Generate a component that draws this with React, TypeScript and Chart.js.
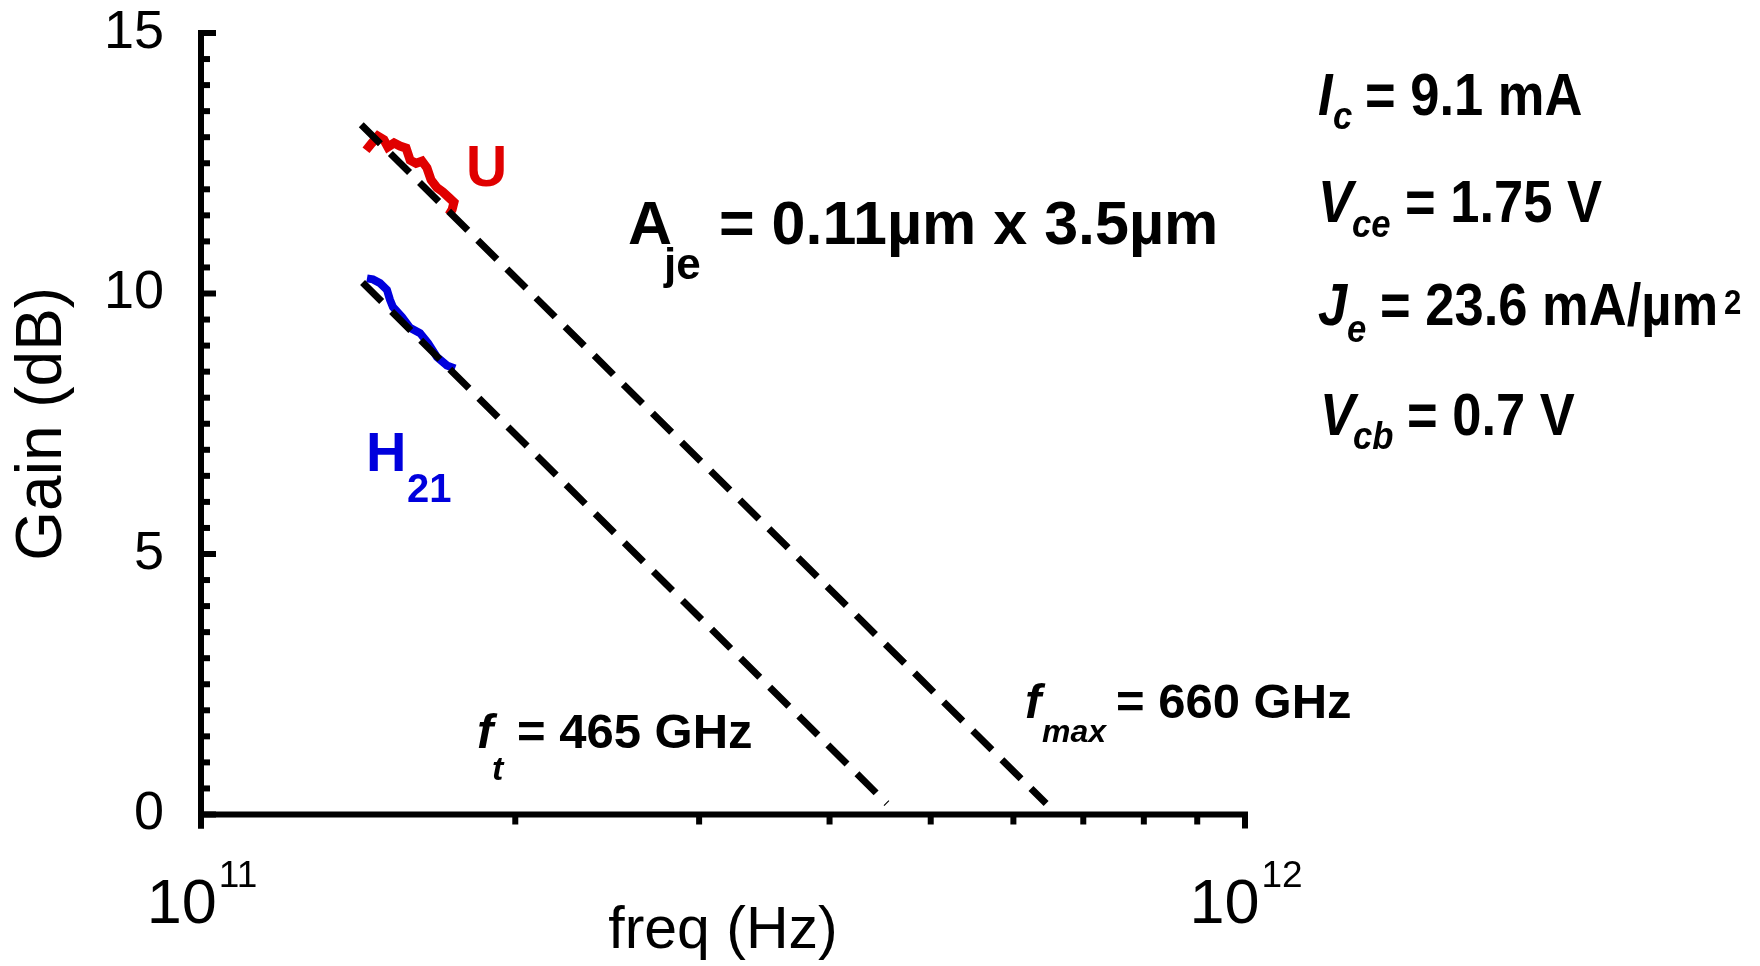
import { useEffect, useRef } from "react";
import { Chart, registerables } from "chart.js";

Chart.register(...registerables);

const W = 1760;
const H = 966;
const FONT = "'Liberation Sans', Arial, Helvetica, sans-serif";
const RED = "#e00000";
const BLUE = "#0000dd";

// Measured unilateral gain U (frequency in Hz, gain in dB)
const uFreq = [
  1.439e11, 1.458e11, 1.477e11, 1.497e11, 1.510e11, 1.531e11, 1.551e11, 1.572e11,
  1.586e11, 1.607e11, 1.628e11, 1.646e11, 1.661e11, 1.683e11, 1.705e11, 1.728e11,
  1.747e11, 1.740e11, 1.728e11,
];
const uGain = [
  12.75, 12.89, 13.02, 12.95, 12.81, 12.89, 12.83, 12.79,
  12.56, 12.5, 12.54, 12.41, 12.18, 12.03, 11.95, 11.84,
  11.75, 11.61, 11.51,
];

// Measured current gain H21
const h21Freq = [
  1.442e11, 1.461e11, 1.484e11, 1.507e11, 1.517e11, 1.527e11, 1.558e11,
  1.586e11, 1.621e11, 1.65e11, 1.683e11, 1.72e11, 1.751e11,
];
const h21Gain = [
  10.29, 10.27, 10.2, 10.07, 9.88, 9.74, 9.55,
  9.34, 9.24, 9.05, 8.78, 8.62, 8.56,
];

// -20 dB/dec extrapolation lines
const fmaxFitFreq = [1.424e11, 6.449e11];
const fmaxFitGain = [13.24, 0.21];
const ftFitFreq = [1.428e11, 4.539e11];
const ftFitGain = [10.21, 0.21];

// Axis tick values
const yMajorTicks = [0, 5, 10, 15];
const yMinorTicks = [
  0.5, 1, 1.5, 2, 2.5, 3, 3.5, 4, 4.5, 5.5, 6, 6.5, 7, 7.5, 8, 8.5, 9, 9.5,
  10.5, 11, 11.5, 12, 12.5, 13, 13.5, 14, 14.5,
];
const xDecades = [1e11, 1e12];
const xDecadeExponents = ["11", "12"];
const xMinorTicks = [2e11, 3e11, 4e11, 5e11, 6e11, 7e11, 8e11, 9e11];

type Run = { text: string; x: number; y: number; size: number; italic?: boolean; sx?: number };
type Annotation = { color: string; runs: Run[] };

const RS = 59; // right-hand text size
const RSUB = 39;
const RX = 0.89; // narrow factor of the original font

const annotations: Annotation[] = [
  { color: RED, runs: [{ text: "U", x: 466, y: 186, size: 57 }] },
  {
    color: BLUE,
    runs: [
      { text: "H", x: 366, y: 471, size: 56 },
      { text: "21", x: 407, y: 502, size: 40 },
    ],
  },
  {
    color: "#000",
    runs: [
      { text: "A", x: 628, y: 244, size: 61 },
      { text: "je", x: 664, y: 279, size: 44 },
      { text: "= 0.11µm x 3.5µm", x: 719, y: 244, size: 61 },
    ],
  },
  {
    color: "#000",
    runs: [
      { text: "I", x: 1318, y: 115, size: RS, italic: true, sx: RX },
      { text: "c", x: 1333, y: 129, size: RSUB, italic: true, sx: RX },
      { text: "= 9.1 mA", x: 1365, y: 115, size: RS, sx: RX },
    ],
  },
  {
    color: "#000",
    runs: [
      { text: "V", x: 1318, y: 222, size: RS, italic: true, sx: RX },
      { text: "ce", x: 1352, y: 237, size: RSUB, italic: true, sx: RX },
      { text: "= 1.75 V", x: 1405, y: 222, size: RS, sx: RX },
    ],
  },
  {
    color: "#000",
    runs: [
      { text: "J", x: 1318, y: 325, size: RS, italic: true, sx: RX },
      { text: "e", x: 1347, y: 342, size: RSUB, italic: true, sx: RX },
      { text: "= 23.6 mA/µm", x: 1380, y: 325, size: RS, sx: RX },
      { text: "2", x: 1724, y: 314, size: 35, sx: RX },
    ],
  },
  {
    color: "#000",
    runs: [
      { text: "V", x: 1320, y: 435, size: RS, italic: true, sx: RX },
      { text: "cb", x: 1353, y: 449, size: RSUB, italic: true, sx: RX },
      { text: "= 0.7 V", x: 1407, y: 435, size: RS, sx: RX },
    ],
  },
  {
    color: "#000",
    runs: [
      { text: "f", x: 477, y: 748, size: 49, italic: true },
      { text: "t", x: 492, y: 780, size: 34, italic: true },
      { text: "= 465 GHz", x: 517, y: 748, size: 49 },
    ],
  },
  {
    color: "#000",
    runs: [
      { text: "f", x: 1025, y: 718, size: 49, italic: true },
      { text: "max", x: 1042, y: 742, size: 32, italic: true },
      { text: "= 660 GHz", x: 1116, y: 718, size: 49 },
    ],
  },
];

const decorPlugin = {
  id: "decor",
  afterDraw(chart: any) {
    const ctx: CanvasRenderingContext2D = chart.ctx;
    const xs = chart.scales.x;
    const ys = chart.scales.y;
    const x0 = xs.getPixelForValue(xDecades[0]);
    const x1 = xs.getPixelForValue(xDecades[1]);
    const y0 = ys.getPixelForValue(0);
    const yTop = ys.getPixelForValue(15);
    ctx.save();
    ctx.strokeStyle = "#000";
    ctx.lineCap = "butt";
    ctx.lineWidth = 6;
    // axis lines
    ctx.beginPath();
    ctx.moveTo(x0, yTop - 3);
    ctx.lineTo(x0, y0 + 14);
    ctx.stroke();
    ctx.beginPath();
    ctx.moveTo(x0 - 3, y0);
    ctx.lineTo(x1 + 3, y0);
    ctx.stroke();
    // y ticks (inward)
    for (const v of yMajorTicks) {
      const y = ys.getPixelForValue(v);
      ctx.beginPath();
      ctx.moveTo(x0, y);
      ctx.lineTo(x0 + 15, y);
      ctx.stroke();
    }
    for (const v of yMinorTicks) {
      const y = ys.getPixelForValue(v);
      ctx.beginPath();
      ctx.moveTo(x0, y);
      ctx.lineTo(x0 + 9, y);
      ctx.stroke();
    }
    // x ticks (outward)
    for (const v of xDecades) {
      const x = xs.getPixelForValue(v);
      ctx.beginPath();
      ctx.moveTo(x, y0);
      ctx.lineTo(x, y0 + 14);
      ctx.stroke();
    }
    for (const v of xMinorTicks) {
      const x = xs.getPixelForValue(v);
      ctx.beginPath();
      ctx.moveTo(x, y0);
      ctx.lineTo(x, y0 + 10);
      ctx.stroke();
    }
    // x tick labels 10^n
    ctx.fillStyle = "#000";
    ctx.textBaseline = "alphabetic";
    ctx.textAlign = "left";
    xDecades.forEach((v, i) => {
      const x = xs.getPixelForValue(v);
      ctx.font = `63px ${FONT}`;
      const wb = ctx.measureText("10").width;
      ctx.font = `37px ${FONT}`;
      const we = ctx.measureText(xDecadeExponents[i]).width;
      const start = x - (wb + we) / 2;
      ctx.font = `63px ${FONT}`;
      ctx.fillText("10", start, 923);
      ctx.font = `37px ${FONT}`;
      ctx.fillText(xDecadeExponents[i], start + wb + 2, 887);
    });
    // annotations
    for (const a of annotations) {
      ctx.fillStyle = a.color;
      for (const r of a.runs) {
        ctx.save();
        ctx.font = `${r.italic ? "italic " : ""}bold ${r.size}px ${FONT}`;
        ctx.translate(r.x, r.y);
        ctx.scale(r.sx ?? 1, 1);
        ctx.fillText(r.text, 0, 0);
        ctx.restore();
      }
    }
    ctx.restore();
  },
};

export default function App() {
  const ref = useRef<HTMLCanvasElement | null>(null);

  useEffect(() => {
    document.body.style.margin = "0";
    const canvas = ref.current;
    if (!canvas) return;
    const chart = new Chart(canvas, {
      type: "scatter",
      data: {
        datasets: [
          {
            label: "U",
            data: uFreq.map((f, i) => ({ x: f, y: uGain[i] })),
            showLine: true,
            borderColor: RED,
            backgroundColor: RED,
            borderWidth: 9,
            borderJoinStyle: "miter",
            pointRadius: 0,
            order: 2,
          },
          {
            label: "H21",
            data: h21Freq.map((f, i) => ({ x: f, y: h21Gain[i] })),
            showLine: true,
            borderColor: BLUE,
            backgroundColor: BLUE,
            borderWidth: 8,
            borderJoinStyle: "miter",
            pointRadius: 0,
            order: 2,
          },
          {
            label: "fmax fit",
            data: fmaxFitFreq.map((f, i) => ({ x: f, y: fmaxFitGain[i] })),
            showLine: true,
            borderColor: "#000",
            borderWidth: 7,
            borderDash: [27, 14],
            pointRadius: 0,
            order: 1,
          },
          {
            label: "ft fit",
            data: ftFitFreq.map((f, i) => ({ x: f, y: ftFitGain[i] })),
            showLine: true,
            borderColor: "#000",
            borderWidth: 7,
            borderDash: [27, 14],
            pointRadius: 0,
            order: 1,
          },
        ],
      },
      options: {
        responsive: false,
        animation: false,
        devicePixelRatio: 1,
        events: [],
        layout: { padding: { top: 33, right: 515, bottom: 0, left: 0 } },
        plugins: { legend: { display: false }, tooltip: { enabled: false } },
        scales: {
          x: {
            type: "logarithmic",
            min: 1e11,
            max: 1e12,
            grid: { display: false },
            border: { display: false },
            ticks: { display: false },
            title: {
              display: true,
              text: "freq (Hz)",
              color: "#000",
              font: { family: FONT, size: 59, lineHeight: 1 },
              padding: { top: 0, bottom: 5 },
            },
            afterFit: (s: any) => {
              s.height = 151.5;
              s.paddingLeft = 0;
              s.paddingRight = 0;
            },
          },
          y: {
            type: "linear",
            min: 0,
            max: 15,
            grid: { display: false, drawTicks: false },
            border: { display: false },
            ticks: {
              stepSize: 5,
              padding: 37,
              color: "#000",
              font: { family: FONT, size: 54, lineHeight: 1 },
            },
            title: {
              display: true,
              text: "Gain (dB)",
              color: "#000",
              font: { family: FONT, size: 64, lineHeight: 1 },
              padding: { top: 11, bottom: 0 },
            },
            afterFit: (s: any) => {
              s.width = 201;
              s.paddingTop = 0;
              s.paddingBottom = 0;
            },
          },
        },
      },
      plugins: [decorPlugin],
    } as any);
    return () => chart.destroy();
  }, []);

  return (
    <div style={{ position: "fixed", left: 0, top: 0, width: W, height: H, background: "#fff" }}>
      <canvas ref={ref} width={W} height={H} style={{ width: W, height: H, display: "block" }} />
    </div>
  );
}
